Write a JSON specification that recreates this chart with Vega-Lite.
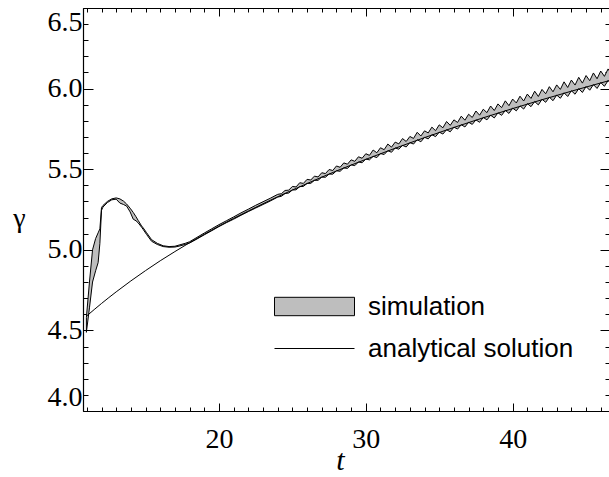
{
 "$schema": "https://vega.github.io/schema/vega-lite/v6.json",
 "width": 527,
 "height": 403,
 "autosize": {"type": "none"},
 "padding": {"left": 83, "top": 8, "right": 0, "bottom": 66},
 "background": "white",
 "config": {
  "view": {"stroke": null},
  "axis": {"grid": false, "domainColor": "black", "domainWidth": 1.2, "tickColor": "black", "tickWidth": 1, "labelColor": "black", "titleColor": "black", "labelOverlap": false}
 },
 "datasets": {
  "sim": [
   {"t": 10.97, "lo": 4.488, "hi": 4.58},
   {"t": 11.18, "lo": 4.64, "hi": 4.8},
   {"t": 11.39, "lo": 4.8, "hi": 5.0},
   {"t": 11.6, "lo": 4.87, "hi": 5.07},
   {"t": 11.77, "lo": 4.92, "hi": 5.105},
   {"t": 11.89, "lo": 5.04, "hi": 5.13},
   {"t": 12.0, "lo": 5.245, "hi": 5.262},
   {"t": 12.1, "lo": 5.265, "hi": 5.275},
   {"t": 12.4, "lo": 5.293, "hi": 5.3},
   {"t": 12.7, "lo": 5.31, "hi": 5.316},
   {"t": 13.0, "lo": 5.314, "hi": 5.322},
   {"t": 13.25, "lo": 5.29, "hi": 5.316},
   {"t": 13.5, "lo": 5.281, "hi": 5.302},
   {"t": 13.71, "lo": 5.271, "hi": 5.284},
   {"t": 13.95, "lo": 5.235, "hi": 5.258},
   {"t": 14.16, "lo": 5.19, "hi": 5.232},
   {"t": 14.35, "lo": 5.18, "hi": 5.205},
   {"t": 14.5, "lo": 5.167, "hi": 5.182},
   {"t": 14.73, "lo": 5.14, "hi": 5.148},
   {"t": 14.84, "lo": 5.126, "hi": 5.136},
   {"t": 15.07, "lo": 5.095, "hi": 5.106},
   {"t": 15.41, "lo": 5.053, "hi": 5.063},
   {"t": 15.8, "lo": 5.033, "hi": 5.04},
   {"t": 16.2, "lo": 5.02, "hi": 5.025},
   {"t": 16.6, "lo": 5.016, "hi": 5.02},
   {"t": 17.0, "lo": 5.017, "hi": 5.022},
   {"t": 17.34, "lo": 5.024, "hi": 5.031},
   {"t": 17.7, "lo": 5.033, "hi": 5.04},
   {"t": 18.0, "lo": 5.042, "hi": 5.05},
   {"t": 18.5, "lo": 5.067, "hi": 5.077},
   {"t": 19.0, "lo": 5.093, "hi": 5.104},
   {"t": 19.5, "lo": 5.118, "hi": 5.13},
   {"t": 20.0, "lo": 5.144, "hi": 5.156},
   {"t": 20.5, "lo": 5.168, "hi": 5.18},
   {"t": 21.0, "lo": 5.19, "hi": 5.204},
   {"t": 21.5, "lo": 5.214, "hi": 5.229},
   {"t": 22.0, "lo": 5.237, "hi": 5.252},
   {"t": 22.5, "lo": 5.259, "hi": 5.276},
   {"t": 23.0, "lo": 5.281, "hi": 5.298},
   {"t": 23.5, "lo": 5.303, "hi": 5.32},
   {"t": 24.0, "lo": 5.327, "hi": 5.344},
   {"t": 24.25, "lo": 5.332, "hi": 5.348},
   {"t": 24.5, "lo": 5.349, "hi": 5.368},
   {"t": 24.75, "lo": 5.352, "hi": 5.37},
   {"t": 25.0, "lo": 5.371, "hi": 5.393},
   {"t": 25.25, "lo": 5.372, "hi": 5.39},
   {"t": 25.5, "lo": 5.392, "hi": 5.416},
   {"t": 25.75, "lo": 5.393, "hi": 5.412},
   {"t": 26.0, "lo": 5.412, "hi": 5.437},
   {"t": 26.25, "lo": 5.412, "hi": 5.433},
   {"t": 26.5, "lo": 5.431, "hi": 5.457},
   {"t": 26.75, "lo": 5.431, "hi": 5.452},
   {"t": 27.0, "lo": 5.451, "hi": 5.478},
   {"t": 27.25, "lo": 5.45, "hi": 5.473},
   {"t": 27.5, "lo": 5.47, "hi": 5.498},
   {"t": 27.75, "lo": 5.469, "hi": 5.492},
   {"t": 28.0, "lo": 5.49, "hi": 5.52},
   {"t": 28.25, "lo": 5.487, "hi": 5.512},
   {"t": 28.5, "lo": 5.508, "hi": 5.539},
   {"t": 28.75, "lo": 5.505, "hi": 5.531},
   {"t": 29.0, "lo": 5.527, "hi": 5.558},
   {"t": 29.25, "lo": 5.522, "hi": 5.549},
   {"t": 29.5, "lo": 5.545, "hi": 5.577},
   {"t": 29.75, "lo": 5.54, "hi": 5.568},
   {"t": 30.0, "lo": 5.563, "hi": 5.596},
   {"t": 30.25, "lo": 5.558, "hi": 5.586},
   {"t": 30.5, "lo": 5.58, "hi": 5.619},
   {"t": 30.75, "lo": 5.572, "hi": 5.602},
   {"t": 31.0, "lo": 5.597, "hi": 5.633},
   {"t": 31.25, "lo": 5.591, "hi": 5.621},
   {"t": 31.5, "lo": 5.615, "hi": 5.656},
   {"t": 31.75, "lo": 5.605, "hi": 5.637},
   {"t": 32.0, "lo": 5.632, "hi": 5.668},
   {"t": 32.25, "lo": 5.624, "hi": 5.657},
   {"t": 32.5, "lo": 5.648, "hi": 5.69},
   {"t": 32.75, "lo": 5.638, "hi": 5.672},
   {"t": 33.0, "lo": 5.665, "hi": 5.703},
   {"t": 33.25, "lo": 5.656, "hi": 5.691},
   {"t": 33.5, "lo": 5.683, "hi": 5.729},
   {"t": 33.75, "lo": 5.67, "hi": 5.706},
   {"t": 34.0, "lo": 5.698, "hi": 5.738},
   {"t": 34.25, "lo": 5.688, "hi": 5.725},
   {"t": 34.5, "lo": 5.714, "hi": 5.761},
   {"t": 34.75, "lo": 5.702, "hi": 5.739},
   {"t": 35.0, "lo": 5.73, "hi": 5.775},
   {"t": 35.25, "lo": 5.718, "hi": 5.757},
   {"t": 35.5, "lo": 5.745, "hi": 5.796},
   {"t": 35.75, "lo": 5.732, "hi": 5.772},
   {"t": 36.0, "lo": 5.761, "hi": 5.806},
   {"t": 36.25, "lo": 5.749, "hi": 5.79},
   {"t": 36.5, "lo": 5.776, "hi": 5.829},
   {"t": 36.75, "lo": 5.762, "hi": 5.804},
   {"t": 37.0, "lo": 5.791, "hi": 5.841},
   {"t": 37.25, "lo": 5.778, "hi": 5.821},
   {"t": 37.5, "lo": 5.806, "hi": 5.861},
   {"t": 37.75, "lo": 5.791, "hi": 5.835},
   {"t": 38.0, "lo": 5.821, "hi": 5.872},
   {"t": 38.25, "lo": 5.806, "hi": 5.851},
   {"t": 38.5, "lo": 5.835, "hi": 5.892},
   {"t": 38.75, "lo": 5.818, "hi": 5.864},
   {"t": 39.0, "lo": 5.85, "hi": 5.905},
   {"t": 39.25, "lo": 5.834, "hi": 5.882},
   {"t": 39.5, "lo": 5.865, "hi": 5.924},
   {"t": 39.75, "lo": 5.846, "hi": 5.894},
   {"t": 40.0, "lo": 5.879, "hi": 5.935},
   {"t": 40.25, "lo": 5.862, "hi": 5.911},
   {"t": 40.5, "lo": 5.893, "hi": 5.953},
   {"t": 40.75, "lo": 5.873, "hi": 5.923},
   {"t": 41.0, "lo": 5.907, "hi": 5.966},
   {"t": 41.25, "lo": 5.888, "hi": 5.939},
   {"t": 41.5, "lo": 5.92, "hi": 5.984},
   {"t": 41.75, "lo": 5.899, "hi": 5.951},
   {"t": 42.0, "lo": 5.934, "hi": 5.995},
   {"t": 42.25, "lo": 5.915, "hi": 5.968},
   {"t": 42.5, "lo": 5.947, "hi": 6.012},
   {"t": 42.75, "lo": 5.925, "hi": 5.98},
   {"t": 43.0, "lo": 5.96, "hi": 6.023},
   {"t": 43.25, "lo": 5.94, "hi": 5.995},
   {"t": 43.5, "lo": 5.974, "hi": 6.042},
   {"t": 43.75, "lo": 5.951, "hi": 6.007},
   {"t": 44.0, "lo": 5.987, "hi": 6.053},
   {"t": 44.25, "lo": 5.965, "hi": 6.022},
   {"t": 44.5, "lo": 6.0, "hi": 6.07},
   {"t": 44.75, "lo": 5.976, "hi": 6.034},
   {"t": 45.0, "lo": 6.013, "hi": 6.081},
   {"t": 45.25, "lo": 5.99, "hi": 6.049},
   {"t": 45.5, "lo": 6.025, "hi": 6.097},
   {"t": 45.75, "lo": 6.001, "hi": 6.061},
   {"t": 46.0, "lo": 6.038, "hi": 6.109},
   {"t": 46.25, "lo": 6.014, "hi": 6.076},
   {"t": 46.5, "lo": 6.05, "hi": 6.122},
   {"t": 46.75, "lo": 6.026, "hi": 6.088}
  ],
  "ana": [
   {"t": 10.97, "g": 4.588},
   {"t": 11.5, "g": 4.629},
   {"t": 12, "g": 4.667},
   {"t": 13, "g": 4.739},
   {"t": 14, "g": 4.807},
   {"t": 15, "g": 4.871},
   {"t": 16, "g": 4.932},
   {"t": 17, "g": 4.989},
   {"t": 18, "g": 5.044},
   {"t": 19, "g": 5.096},
   {"t": 20, "g": 5.147},
   {"t": 22, "g": 5.241},
   {"t": 24, "g": 5.329},
   {"t": 26, "g": 5.411},
   {"t": 28, "g": 5.489},
   {"t": 30, "g": 5.561},
   {"t": 32, "g": 5.63},
   {"t": 34, "g": 5.696},
   {"t": 36, "g": 5.759},
   {"t": 38, "g": 5.819},
   {"t": 40, "g": 5.876},
   {"t": 42, "g": 5.931},
   {"t": 44, "g": 5.984},
   {"t": 46, "g": 6.035},
   {"t": 47, "g": 6.06}
  ]
 },
 "resolve": {"axis": {"x": "independent", "y": "independent"}},
 "layer": [
  {
   "data": {"name": "sim"},
   "mark": {"type": "area", "stroke": "black", "strokeWidth": 1, "clip": true},
   "encoding": {
    "x": {"field": "t", "type": "quantitative", "scale": {"domain": [10.74, 46.63], "nice": false, "zero": false},
     "axis": {"orient": "bottom", "values": [20, 30, 40], "tickSize": -8, "labelFont": "Liberation Serif", "labelFontSize": 28, "labelPadding": 22, "labelFlush": false,
      "title": "t", "titleFont": "Liberation Serif", "titleFontSize": 30, "titleFontStyle": "italic", "titleFontWeight": "normal", "titleX": 257, "titleY": 58, "titleBaseline": "alphabetic", "titleAlign": "center"}},
    "y": {"field": "lo", "type": "quantitative", "scale": {"domain": [4.0, 6.5], "nice": false, "zero": false},
     "axis": {"orient": "left", "values": [4.0, 4.5, 5.0, 5.5, 6.0, 6.5], "format": ".1f", "tickSize": -10, "labelFont": "Liberation Serif", "labelFontSize": 28, "labelPadding": 11, "labelFlush": true,
      "title": "γ", "titleFont": "Liberation Serif", "titleFontSize": 28, "titleFontWeight": "normal", "titleAngle": 0, "titleX": -64, "titleY": 218, "titleBaseline": "alphabetic", "titleAlign": "center"}},
    "y2": {"field": "hi"},
    "fill": {"datum": "simulation", "type": "nominal", "scale": {"range": ["#bebebe"]},
     "legend": {"orient": "none", "legendX": 191, "legendY": 258, "title": null, "padding": 0, "symbolType": "M-1,-0.23H1V0.23H-1Z", "symbolSize": 6400, "symbolStrokeColor": "black", "symbolStrokeWidth": 1, "labelFont": "Liberation Sans", "labelFontSize": 26, "labelOffset": 13, "labelColor": "black", "labelLimit": 400}}
   }
  },
  {
   "data": {"name": "ana"},
   "mark": {"type": "line", "strokeWidth": 1, "interpolate": "monotone", "clip": true},
   "encoding": {
    "x": {"field": "t", "type": "quantitative", "scale": {"domain": [10.74, 46.63], "nice": false, "zero": false},
     "axis": {"orient": "bottom", "values": [11,12,13,14,15,16,17,18,19,20,21,22,23,24,25,26,27,28,29,30,31,32,33,34,35,36,37,38,39,40,41,42,43,44,45,46], "labels": false, "tickSize": -4, "title": null, "domain": false}},
    "y": {"field": "g", "type": "quantitative", "scale": {"domain": [4.0, 6.5], "nice": false, "zero": false},
     "axis": {"orient": "left", "values": [4.0,4.1,4.2,4.3,4.4,4.5,4.6,4.7,4.8,4.9,5.0,5.1,5.2,5.3,5.4,5.5,5.6,5.7,5.8,5.9,6.0,6.1,6.2,6.3,6.4,6.5], "labels": false, "tickSize": -5, "title": null, "domain": false}},
    "stroke": {"datum": "analytical solution", "type": "nominal", "scale": {"range": ["black"]},
     "legend": {"orient": "none", "legendX": 191, "legendY": 300, "title": null, "padding": 0, "symbolType": "stroke", "symbolSize": 6400, "symbolStrokeWidth": 1, "labelFont": "Liberation Sans", "labelFontSize": 26, "labelOffset": 13, "labelColor": "black", "labelLimit": 400}}
   }
  },
  {
   "data": {"name": "ana"},
   "mark": {"type": "point", "opacity": 0},
   "encoding": {
    "x": {"field": "t", "type": "quantitative", "scale": {"domain": [10.74, 46.63], "nice": false, "zero": false},
     "axis": {"orient": "top", "values": [20, 30, 40], "labels": false, "tickSize": -8, "title": null}},
    "y": {"field": "g", "type": "quantitative", "scale": {"domain": [4.0, 6.5], "nice": false, "zero": false},
     "axis": {"orient": "right", "values": [4.0, 4.5, 5.0, 5.5, 6.0, 6.5], "labels": false, "tickSize": -10, "title": null}}
   }
  },
  {
   "data": {"name": "ana"},
   "mark": {"type": "point", "opacity": 0},
   "encoding": {
    "x": {"field": "t", "type": "quantitative", "scale": {"domain": [10.74, 46.63], "nice": false, "zero": false},
     "axis": {"orient": "top", "values": [11,12,13,14,15,16,17,18,19,20,21,22,23,24,25,26,27,28,29,30,31,32,33,34,35,36,37,38,39,40,41,42,43,44,45,46], "labels": false, "tickSize": -4, "title": null, "domain": false}},
    "y": {"field": "g", "type": "quantitative", "scale": {"domain": [4.0, 6.5], "nice": false, "zero": false},
     "axis": {"orient": "right", "values": [4.0,4.1,4.2,4.3,4.4,4.5,4.6,4.7,4.8,4.9,5.0,5.1,5.2,5.3,5.4,5.5,5.6,5.7,5.8,5.9,6.0,6.1,6.2,6.3,6.4,6.5], "labels": false, "tickSize": -5, "title": null, "domain": false}}
   }
  }
 ]
}
